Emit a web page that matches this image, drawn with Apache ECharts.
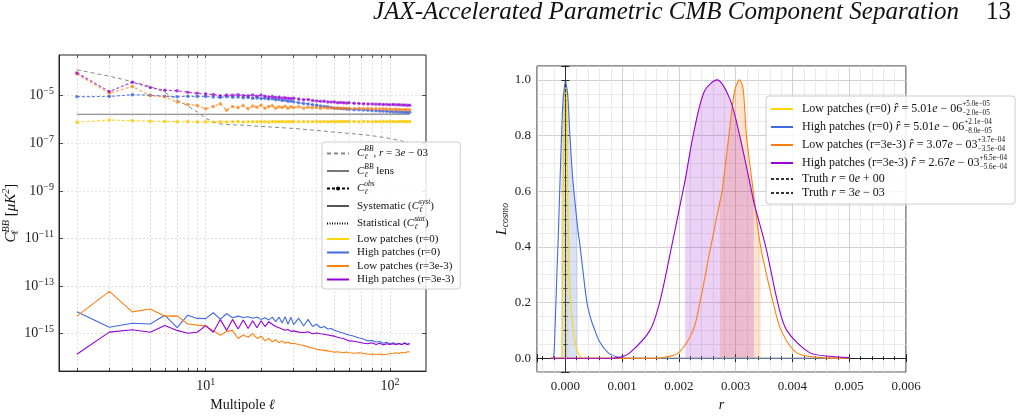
<!DOCTYPE html>
<html>
<head>
<meta charset="utf-8">
<script src="https://cdn.jsdelivr.net/npm/echarts@6/dist/echarts.min.js"></script>
<style>
  html, body { margin: 0; padding: 0; background: #fff; }
  #chart { width: 1021px; height: 417px; }
</style>
</head>
<body>
<div id="chart"></div>
<script>
// ---------- left panel: BB spectra ----------
const ELL = [2, 3, 4, 5, 6, 7, 8, 9, 10, 11, 12, 13, 14, 15, 16, 17, 18, 19, 20, 21, 22, 23, 24, 25, 26, 27, 28, 29, 30,
  32, 34, 36, 38, 40, 42, 44, 46, 48, 50, 52, 54, 56, 58, 60,
  64, 68, 72, 76, 80, 84, 88, 92, 96, 100, 104, 108, 112, 116, 120, 124, 128]

const ELL_TENSOR = [2, 3, 4, 5, 6, 7, 8, 9, 10, 11, 12, 13, 14, 16, 20, 25, 30, 40, 50, 60, 76, 96, 128]
const CL_TENSOR = [1.23e-4, 6.6e-5, 3.9e-5, 2.45e-5, 1.38e-5, 6.6e-6, 3.7e-6, 2.1e-6, 1.12e-6, 8.1e-7, 6.5e-7, 6.2e-7,
  6.0e-7, 5.75e-7, 5.1e-7, 4.6e-7, 4.2e-7, 3.5e-7, 2.95e-7, 2.6e-7, 2.2e-7, 1.7e-7, 1.05e-7]

const ELL_LENS = [2, 20, 128]
const CL_LENS = [1.66e-6, 1.67e-6, 1.68e-6]

// observed spectra (dashed, markers)
const OBS_LOW_R0 = [7.6e-7, 9.5e-7, 8.9e-7, 8.5e-7, 8.3e-7, 8.1e-7, 8.3e-7, 7.9e-7, 8.0e-7, 7.8e-7, 8.1e-7, 7.9e-7, 8.0e-7, 8.2e-7, 7.9e-7,
  8.1e-7, 8.0e-7, 8.2e-7, 8.0e-7, 8.1e-7, 7.9e-7, 8.2e-7, 8.0e-7, 8.1e-7, 8.2e-7, 8.0e-7, 8.1e-7, 8.0e-7, 8.2e-7,
  8.1e-7, 8.2e-7, 8.0e-7, 8.1e-7, 8.2e-7, 8.1e-7, 8.2e-7, 8.1e-7, 8.2e-7, 8.1e-7, 8.2e-7, 8.2e-7, 8.1e-7, 8.2e-7, 8.2e-7,
  8.2e-7, 8.1e-7, 8.2e-7, 8.2e-7, 8.1e-7, 8.2e-7, 8.2e-7, 8.1e-7, 8.2e-7, 8.2e-7, 8.2e-7, 8.1e-7, 8.2e-7, 8.2e-7, 8.2e-7, 8.1e-7, 8.2e-7]
const OBS_HIGH_R0 = [9.1e-6, 9.3e-6, 1.1e-5, 1.05e-5, 9.5e-6, 9.1e-6, 9.5e-6, 9.3e-6, 9.3e-6, 8.9e-6, 8.5e-6, 9.1e-6, 8.7e-6, 8.9e-6, 8.3e-6,
  8.5e-6, 7.9e-6, 8.1e-6, 7.6e-6, 7.8e-6, 7.2e-6, 7.4e-6, 6.8e-6, 6.9e-6, 6.3e-6, 6.5e-6, 5.9e-6, 6.0e-6, 5.6e-6,
  5.0e-6, 4.7e-6, 4.5e-6, 4.2e-6, 4.0e-6, 3.7e-6, 3.5e-6, 3.4e-6, 3.2e-6, 3.0e-6, 2.95e-6, 2.9e-6, 2.8e-6, 2.75e-6, 2.7e-6,
  2.6e-6, 2.55e-6, 2.5e-6, 2.45e-6, 2.4e-6, 2.35e-6, 2.3e-6, 2.25e-6, 2.2e-6, 2.15e-6, 2.1e-6, 2.1e-6, 2.05e-6, 2.05e-6, 2.0e-6, 2.0e-6, 2.0e-6]
const OBS_LOW_R3 = [8.3e-5, 1.26e-5, 2.45e-5, 1.0e-5, 9.1e-6, 5.4e-6, 4.3e-6, 3.9e-6, 2.8e-6, 3.5e-6, 4.6e-6, 2.45e-6, 3.5e-6, 3.2e-6, 3.8e-6,
  2.8e-6, 3.7e-6, 3.3e-6, 4.0e-6, 3.0e-6, 3.5e-6, 3.8e-6, 2.95e-6, 3.45e-6, 3.2e-6, 3.6e-6, 3.0e-6, 3.4e-6, 3.2e-6,
  3.45e-6, 3.0e-6, 3.3e-6, 3.1e-6, 3.2e-6, 2.95e-6, 3.2e-6, 3.0e-6, 3.1e-6, 2.95e-6, 3.0e-6, 2.95e-6, 3.0e-6, 2.9e-6, 2.95e-6,
  2.9e-6, 2.95e-6, 2.8e-6, 2.9e-6, 2.8e-6, 2.8e-6, 2.75e-6, 2.8e-6, 2.75e-6, 2.7e-6, 2.65e-6, 2.7e-6, 2.65e-6, 2.6e-6, 2.65e-6, 2.6e-6, 2.6e-6]
const OBS_HIGH_R3 = [9.1e-5, 1.5e-5, 3.7e-5, 2.2e-5, 1.7e-5, 1.6e-5, 1.4e-5, 1.26e-5, 1.17e-5, 1.12e-5, 1.0e-5, 1.07e-5, 1.05e-5, 1.1e-5, 1.02e-5,
  1.0e-5, 1.07e-5, 9.5e-6, 1.07e-5, 9.5e-6, 8.9e-6, 9.3e-6, 8.5e-6, 8.7e-6, 8.1e-6, 8.3e-6, 7.9e-6, 7.6e-6, 7.9e-6,
  7.2e-6, 6.8e-6, 6.9e-6, 6.3e-6, 6.0e-6, 5.8e-6, 5.9e-6, 5.5e-6, 5.4e-6, 5.4e-6, 5.1e-6, 5.2e-6, 5.0e-6, 4.9e-6, 5.0e-6,
  4.8e-6, 4.7e-6, 4.6e-6, 4.5e-6, 4.5e-6, 4.4e-6, 4.4e-6, 4.3e-6, 4.3e-6, 4.2e-6, 4.3e-6, 4.2e-6, 4.2e-6, 4.1e-6, 4.1e-6, 4.0e-6, 4.0e-6]

// systematic residuals (solid)
const SYST_HIGH_R0 = [8.3e-15, 1.86e-15, 2.75e-15, 2.57e-15, 6.0e-15, 1.82e-15, 6.0e-15, 4.4e-15, 4.3e-15, 7.6e-15, 4.1e-15, 6.9e-15, 4.7e-15, 5.5e-15, 4.8e-15,
  5.2e-15, 4.5e-15, 5.0e-15, 4.0e-15, 4.7e-15, 3.8e-15, 5.0e-15, 3.2e-15, 5.0e-15, 2.8e-15, 5.2e-15, 2.5e-15, 5.0e-15, 2.4e-15,
  4.5e-15, 2.1e-15, 4.0e-15, 2.0e-15, 2.5e-15, 1.78e-15, 2.0e-15, 1.58e-15, 1.66e-15, 1.41e-15, 1.26e-15, 1.12e-15, 1.07e-15, 9.5e-16, 8.9e-16,
  7.9e-16, 6.6e-16, 6.0e-16, 5.0e-16, 5.2e-16, 4.5e-16, 4.7e-16, 4.0e-16, 4.4e-16, 3.8e-16, 4.2e-16, 3.6e-16, 4.0e-16, 3.5e-16, 4.2e-16, 3.6e-16, 4.0e-16]
const SYST_LOW_R3 = [5.5e-15, 6.0e-14, 8.3e-15, 1.1e-14, 5.5e-15, 5.6e-15, 2.57e-15, 2.3e-15, 2.14e-15, 1.35e-15, 8.7e-16, 1.26e-15, 1.38e-15, 6.3e-16, 8.9e-16,
  7.1e-16, 1.0e-15, 6.3e-16, 7.9e-16, 5.0e-16, 6.3e-16, 4.5e-16, 5.6e-16, 4.2e-16, 5.0e-16, 4.0e-16, 4.5e-16, 3.8e-16, 4.0e-16,
  3.5e-16, 3.2e-16, 2.8e-16, 2.5e-16, 2.24e-16, 2.1e-16, 2.0e-16, 1.9e-16, 1.78e-16, 1.66e-16, 1.74e-16, 1.66e-16, 1.58e-16, 1.7e-16, 1.58e-16,
  1.51e-16, 1.58e-16, 1.48e-16, 1.38e-16, 1.41e-16, 1.35e-16, 1.41e-16, 1.32e-16, 1.38e-16, 1.45e-16, 1.51e-16, 1.58e-16, 1.48e-16, 1.62e-16, 1.58e-16, 1.7e-16, 1.74e-16]
const SYST_HIGH_R3 = [1.38e-16, 1.17e-15, 1.48e-15, 1.15e-15, 2.2e-15, 1.38e-15, 1.05e-15, 1.15e-15, 2.2e-15, 1.15e-15, 4.0e-15, 1.38e-15, 4.0e-15, 1.58e-15, 3.8e-15,
  1.66e-15, 3.5e-15, 1.78e-15, 3.5e-15, 2.0e-15, 3.2e-15, 2.5e-15, 2.0e-15, 1.78e-15, 1.58e-15, 1.41e-15, 1.51e-15, 1.26e-15, 1.32e-15,
  1.17e-15, 1.12e-15, 1.2e-15, 1.0e-15, 1.07e-15, 1.0e-15, 9.5e-16, 8.9e-16, 8.3e-16, 7.9e-16, 7.1e-16, 6.6e-16, 6.3e-16, 5.6e-16, 5.0e-16,
  4.8e-16, 4.4e-16, 4.0e-16, 3.8e-16, 4.2e-16, 3.5e-16, 4.0e-16, 3.4e-16, 3.8e-16, 3.5e-16, 3.8e-16, 3.5e-16, 3.8e-16, 3.5e-16, 4.0e-16, 3.5e-16, 3.7e-16]

const ELL_TICKS = [2, 3, 4, 5, 6, 7, 8, 9, 10, 20, 30, 40, 50, 60, 70, 80, 90, 100]
const ELL_LABELS = [10, 100]
const CL_TICKS = [1e-15, 1e-13, 1e-11, 1e-9, 1e-7, 1e-5]

// ---------- right panel: likelihoods ----------
const R_LOW0 = [-0.00026, -0.00007, -0.00006, -0.00005, -0.00004, -0.00002, -0.000015, 0, 0.000005, 0.00001, 0.00003, 0.00005, 0.000055, 0.00007, 0.0001, 0.00015, 0.0002, 0.00025, 0.0003, 0.005]
const L_LOW0 = [0, 0, 0.02, 0.3, 0.6, 0.88, 0.93, 0.99, 1.0, 0.99, 0.8, 0.47, 0.42, 0.3, 0.18, 0.08, 0.03, 0.01, 0, 0]
const R_HIGH0 = [-0.00026, -0.00022, -0.0002, -0.00018, -0.00015, -0.00012, -0.000075, -0.00004, 0, 0.000005, 0.00004, 0.00008, 0.00012, 0.00015, 0.0002, 0.000215, 0.00026, 0.0003, 0.00038, 0.00045, 0.00052, 0.0006, 0.00075, 0.0009, 0.0011, 0.005]
const L_HIGH0 = [0, 0, 0.02, 0.12, 0.3, 0.47, 0.76, 0.93, 0.999, 1.0, 0.95, 0.8, 0.67, 0.6, 0.5, 0.47, 0.4, 0.33, 0.2, 0.14, 0.1, 0.06, 0.02, 0.005, 0, 0]
const R_LOW3 = [-0.00026, 0.0016, 0.0018, 0.002, 0.00225, 0.00237, 0.00256, 0.00272, 0.00276, 0.00288, 0.00298, 0.00307, 0.00313, 0.00319, 0.00331, 0.00344, 0.00366, 0.0038, 0.00407, 0.0045, 0.005]
const L_LOW3 = [0, 0, 0.005, 0.02, 0.1, 0.2, 0.4, 0.56, 0.6, 0.8, 0.96, 1.0, 0.97, 0.8, 0.6, 0.4, 0.2, 0.1, 0.02, 0.002, 0]
const R_HIGH3 = [-0.00026, 0.0008, 0.00096, 0.00114, 0.00149, 0.00166, 0.00187, 0.00207, 0.00211, 0.00225, 0.00245, 0.00267, 0.0029, 0.00307, 0.00328, 0.00332, 0.00353, 0.00374, 0.0039, 0.0043, 0.0047, 0.005]
const L_HIGH3 = [0, 0, 0.003, 0.02, 0.1, 0.2, 0.4, 0.6, 0.64, 0.8, 0.96, 1.0, 0.93, 0.8, 0.6, 0.56, 0.4, 0.2, 0.1, 0.02, 0.006, 0.002]

// estimates and 68% intervals: low r=0, high r=0, low r=3e-3, high r=3e-3
const R_HAT = [5.01e-6, 5.01e-6, 3.07e-3, 2.67e-3]
const R_LO = [-1.5e-5, -7.5e-5, 2.72e-3, 2.11e-3]
const R_HI = [5.5e-5, 2.15e-4, 3.44e-3, 3.32e-3]
const R_TRUTH = [0, 0.003]

const F = 'Liberation Serif'
const NONE = 'rgba(0,0,0,0)'
const COLORS = ['#FFD700', '#4169E1', '#FF7F0E', '#9400D3']
const FADED = ['rgba(255,200,0,0.8)', 'rgba(65,105,225,0.8)', 'rgba(255,127,14,0.7)', 'rgba(148,0,211,0.7)']
const SHADE = ['rgba(255,215,0,0.25)', 'rgba(65,105,225,0.2)', 'rgba(255,127,14,0.2)', 'rgba(148,0,211,0.18)']

const pairs = (xs, ys) => xs.map((x, i) => [x, ys[i]])
const inBand = (xs, ys, lo, hi) => pairs(xs, ys).filter(p => p[0] >= lo - 1e-12 && p[0] <= hi + 1e-12)

const chart = echarts.init(document.getElementById('chart'))

// rich text pieces for math-like labels
const mathRich = (size) => ({
  t: { fontFamily: F, fontSize: size, color: '#111', lineHeight: size + 4 },
  i: { fontFamily: F, fontSize: size, fontStyle: 'italic', color: '#111', lineHeight: size + 4 },
  sp: { fontFamily: F, fontSize: size * 0.68, fontStyle: 'italic', color: '#111', verticalAlign: 'top', lineHeight: size + 4 },
  sb: { fontFamily: F, fontSize: size * 0.68, fontStyle: 'italic', color: '#111', verticalAlign: 'bottom', lineHeight: size + 4 },
  // zero-width token so the next token stacks on top of it
  sb0: { fontFamily: F, fontSize: size * 0.68, fontStyle: 'italic', color: '#111', verticalAlign: 'bottom', width: 0.01, lineHeight: size + 4 },
  sp0: { fontFamily: F, fontSize: size * 0.6, color: '#111', verticalAlign: 'top', width: 0.01, lineHeight: size + 4 },
  sbn: { fontFamily: F, fontSize: size * 0.6, color: '#111', verticalAlign: 'bottom', lineHeight: size + 4 }
})

const LEFT_NAMES = {
  tensor: '{i|C}{sb0|ℓ}{sp|BB}{t|, }{i|r}{t| = 3}{i|e}{t| − 03}',
  lens: '{i|C}{sb0|ℓ}{sp|BB}{t| lens}',
  obs: '{i|C}{sb0|ℓ}{sp|obs}',
  syst: '{t|Systematic (}{i|C}{sb0|ℓ}{sp|syst}{t|)}',
  stat: '{t|Statistical (}{i|C}{sb0|ℓ}{sp|stat}{t|)}',
  low0: '{t|Low patches (r=0)}',
  high0: '{t|High patches (r=0)}',
  low3: '{t|Low patches (r=3e-3)}',
  high3: '{t|High patches (r=3e-3)}'
}
const RIGHT_NAMES = {
  rlow0: '{t|Low patches (r=0) }{i|r̂}{t| = 5.01}{i|e}{t| − 06}{sp0|+5.0e−05}{sbn|−2.0e−05}',
  rhigh0: '{t|High patches (r=0) }{i|r̂}{t| = 5.01}{i|e}{t| − 06}{sp0|+2.1e−04}{sbn|−8.0e−05}',
  rlow3: '{t|Low patches (r=3e-3) }{i|r̂}{t| = 3.07}{i|e}{t| − 03}{sp0|+3.7e−04}{sbn|−3.5e−04}',
  rhigh3: '{t|High patches (r=3e-3) }{i|r̂}{t| = 2.67}{i|e}{t| − 03}{sp0|+6.5e−04}{sbn|−5.6e−04}',
  truth0: '{t|Truth }{i|r}{t| = 0}{i|e}{t| + 00}',
  truth3: '{t|Truth }{i|r}{t| = 3}{i|e}{t| − 03}'
}

const powLabel = v => {
  const e = Math.round(Math.log10(v))
  return '{b|10}{s|' + (e < 0 ? '−' + (-e) : e) + '}'
}
const powRich = {
  b: { fontFamily: F, fontSize: 14, color: '#222' },
  s: { fontFamily: F, fontSize: 10, color: '#222', verticalAlign: 'top', padding: [0, 0, 8, 0] }
}

const series = []
const L = { xAxisIndex: 0, yAxisIndex: 0 }
const R = { xAxisIndex: 2, yAxisIndex: 2 }

// left panel
series.push(Object.assign({ name: 'tensor', type: 'line', data: pairs(ELL_TENSOR, CL_TENSOR), symbol: 'none',
  lineStyle: { color: '#888', type: [4, 3], width: 1 }, itemStyle: { color: NONE }, z: 2 }, L))
series.push(Object.assign({ name: 'lens', type: 'line', data: pairs(ELL_LENS, CL_LENS), symbol: 'none',
  lineStyle: { color: '#777', width: 1.1 }, itemStyle: { color: NONE }, z: 2 }, L))
const OBS = [OBS_LOW_R0, OBS_HIGH_R0, OBS_LOW_R3, OBS_HIGH_R3]
OBS.forEach((arr, k) => {
  series.push(Object.assign({ name: 'obs_' + k, type: 'line', data: pairs(ELL, arr), symbol: 'circle', symbolSize: 3.5,
    lineStyle: { color: FADED[k], type: [3, 2], width: 1.2 }, itemStyle: { color: FADED[k] }, z: 3 }, L))
})
const SYST = { high0: [SYST_HIGH_R0, 1], low3: [SYST_LOW_R3, 2], high3: [SYST_HIGH_R3, 3] }
Object.keys(SYST).forEach(name => {
  const [arr, k] = SYST[name]
  series.push(Object.assign({ name, type: 'line', data: pairs(ELL, arr), symbol: 'none',
    lineStyle: { color: COLORS[k], width: 1.1 }, itemStyle: { color: NONE }, z: 3 }, L))
})
// legend-only keys
series.push(Object.assign({ name: 'low0', type: 'line', data: [], symbol: 'none', lineStyle: { color: COLORS[0], width: 1.2 }, itemStyle: { color: NONE } }, L))
series.push(Object.assign({ name: 'obs', type: 'line', data: [], symbol: 'circle', symbolSize: 4, lineStyle: { color: '#000', type: [3, 2], width: 1.1 }, itemStyle: { color: '#000' } }, L))
series.push(Object.assign({ name: 'syst', type: 'line', data: [], symbol: 'none', lineStyle: { color: '#555', width: 1.8 }, itemStyle: { color: NONE } }, L))
series.push(Object.assign({ name: 'stat', type: 'line', data: [], symbol: 'none', lineStyle: { color: '#000', type: [1, 1.5], width: 1 }, itemStyle: { color: NONE } }, L))

// right panel
const CURVES = [['rlow0', R_LOW0, L_LOW0], ['rhigh0', R_HIGH0, L_HIGH0], ['rlow3', R_LOW3, L_LOW3], ['rhigh3', R_HIGH3, L_HIGH3]]
CURVES.forEach(([name, xs, ys], k) => {
  series.push(Object.assign({ name: 'band_' + name, type: 'line', data: inBand(xs, ys, R_LO[k], R_HI[k]), symbol: 'none',
    smooth: 0.3, lineStyle: { width: 0 }, areaStyle: { color: SHADE[k], opacity: 1 }, itemStyle: { color: SHADE[k] }, z: 1 }, R))
})
CURVES.forEach(([name, xs, ys], k) => {
  series.push(Object.assign({ name, type: 'line', data: pairs(xs, ys), symbol: 'none', smooth: 0.3,
    lineStyle: { color: COLORS[k], width: 1.1 }, itemStyle: { color: NONE }, z: 3,
    markLine: { silent: true, symbol: ['none', 'none'], label: { show: false },
      lineStyle: { color: COLORS[k], type: [3, 2], width: 0.9 }, data: [{ xAxis: R_HAT[k] }] } }, R))
})
;['truth0', 'truth3'].forEach((name, k) => {
  series.push(Object.assign({ name, type: 'line', data: [], symbol: 'none',
    lineStyle: { color: '#333', type: [3, 2], width: 1 }, itemStyle: { color: NONE }, z: 4,
    markLine: { silent: true, symbol: ['none', 'none'], label: { show: false },
      lineStyle: { color: '#333', type: [3, 2], width: 1 }, data: [{ xAxis: R_TRUTH[k] }] } }, R))
})

const tickIn = (vals, len) => ({ show: true, inside: true, length: len, customValues: vals, lineStyle: { color: '#222', width: 0.8 } })

const option = {
  animation: false,
  backgroundColor: '#fff',
  graphic: [
    { type: 'text', right: 62, top: 0, style: { text: 'JAX-Accelerated Parametric CMB Component Separation', fill: '#111',
      font: 'italic 25px "Liberation Serif"' } },
    { type: 'text', right: 10, top: 0, style: { text: '13', fill: '#111', font: '25px "Liberation Serif"' } }
  ],
  grid: [
    { left: 59, top: 55, width: 367, height: 324, show: true, borderColor: '#222', borderWidth: 1 },
    { left: 537, top: 66, width: 369, height: 314, show: true, borderColor: '#222', borderWidth: 1 }
  ],
  legend: [
    {
      data: ['tensor', 'lens', 'obs', 'syst', 'stat', 'low0', 'high0', 'low3', 'high3'],
      orient: 'vertical', left: 322, top: 142, padding: [4, 6, 4, 4], itemGap: 2.5,
      itemWidth: 22, itemHeight: 5, selectedMode: false,
      backgroundColor: 'rgba(255,255,255,0.85)', borderColor: '#ccc', borderWidth: 1, borderRadius: 3,
      formatter: n => LEFT_NAMES[n],
      textStyle: { fontFamily: F, fontSize: 11, padding: [0, 0, 0, 3], rich: mathRich(11) },
      z: 10
    },
    {
      data: ['rlow0', 'rhigh0', 'rlow3', 'rhigh3', 'truth0', 'truth3'],
      orient: 'vertical', left: 766, top: 96, padding: [5, 8, 5, 4], itemGap: 2,
      itemWidth: 22, itemHeight: 5, selectedMode: false,
      backgroundColor: 'rgba(255,255,255,0.85)', borderColor: '#ccc', borderWidth: 1, borderRadius: 3,
      formatter: n => RIGHT_NAMES[n],
      textStyle: { fontFamily: F, fontSize: 12, padding: [0, 0, 0, 4], rich: mathRich(12) },
      z: 10
    }
  ],
  xAxis: [
    {
      gridIndex: 0, type: 'log', logBase: 10, min: 1.6, max: 157,
      axisLine: { show: true, lineStyle: { color: '#222', width: 1 } },
      axisTick: tickIn(ELL_TICKS, 3),
      axisLabel: { customValues: ELL_LABELS, formatter: powLabel, rich: powRich, margin: 6 },
      splitLine: { show: true, lineStyle: { color: '#d8d8d8', type: [2, 2], width: 0.8 } },
      name: '{t|Multipole }{i|ℓ}', nameLocation: 'middle', nameGap: 18,
      nameTextStyle: { rich: mathRich(14) }
    },
    {
      gridIndex: 0, type: 'log', logBase: 10, min: 1.6, max: 157, position: 'top',
      axisLine: { show: false }, axisTick: tickIn(ELL_TICKS, 3), axisLabel: { show: false }, splitLine: { show: false }
    },
    {
      gridIndex: 1, type: 'value', min: -0.0005, max: 0.006, splitNumber: 6,
      axisLine: { show: true, lineStyle: { color: '#222', width: 1 } },
      axisTick: { show: true, inside: true, length: 4, lineStyle: { color: '#222' } },
      minorTick: { show: true, splitNumber: 5, length: 2, lineStyle: { color: '#222' } },
      axisLabel: { showMinLabel: false, formatter: v => v.toFixed(3), fontFamily: F, fontSize: 13, color: '#222', margin: 8 },
      splitLine: { show: true, lineStyle: { color: '#c4c4c4', width: 0.8 } },
      minorSplitLine: { show: true, lineStyle: { color: '#e4e4e4', width: 0.8 } },
      name: '{i|r}', nameLocation: 'middle', nameGap: 19, nameTextStyle: { rich: mathRich(14) }
    },
    {
      gridIndex: 1, type: 'value', min: -0.0005, max: 0.006, splitNumber: 6, position: 'top',
      axisLine: { show: false }, axisTick: { show: true, inside: true, length: 4, lineStyle: { color: '#222' } },
      minorTick: { show: true, splitNumber: 5, length: 2, lineStyle: { color: '#222' } },
      axisLabel: { show: false }, splitLine: { show: false }
    }
  ],
  yAxis: [
    {
      gridIndex: 0, type: 'log', logBase: 10, min: 2.69e-17, max: 5.13e-4,
      axisLine: { show: true, lineStyle: { color: '#222', width: 1 } },
      axisTick: tickIn(CL_TICKS, 4),
      axisLabel: { customValues: CL_TICKS, formatter: powLabel, rich: powRich, margin: 5 },
      splitLine: { show: true, lineStyle: { color: '#d8d8d8', type: [2, 2], width: 0.8 } },
      name: '{i|C}{sb0|ℓ}{sp|BB}{t| [}{i|μK}{sp|2}{t|]}', nameLocation: 'middle', nameGap: 35, nameRotate: 90,
      nameTextStyle: { rich: mathRich(15) }
    },
    {
      gridIndex: 0, type: 'log', logBase: 10, min: 2.69e-17, max: 5.13e-4, position: 'right',
      axisLine: { show: false }, axisTick: tickIn(CL_TICKS, 4), axisLabel: { show: false }, splitLine: { show: false }
    },
    {
      gridIndex: 1, type: 'value', min: -0.05, max: 1.05, splitNumber: 5,
      axisLine: { show: true, lineStyle: { color: '#222', width: 1 } },
      axisTick: { show: true, inside: true, length: 4, lineStyle: { color: '#222' } },
      minorTick: { show: true, splitNumber: 4, length: 2, lineStyle: { color: '#222' } },
      axisLabel: { showMinLabel: false, showMaxLabel: false, formatter: v => v.toFixed(1), fontFamily: F, fontSize: 13, color: '#222', margin: 6 },
      splitLine: { show: true, lineStyle: { color: '#c4c4c4', width: 0.8 } },
      minorSplitLine: { show: true, lineStyle: { color: '#e4e4e4', width: 0.8 } },
      name: '{i|L}{sb|cosmo}', nameLocation: 'middle', nameGap: 23, nameRotate: 90,
      nameTextStyle: { rich: mathRich(14) }
    },
    {
      gridIndex: 1, type: 'value', min: -0.05, max: 1.05, splitNumber: 5, position: 'right',
      axisLine: { show: false }, axisTick: { show: true, inside: true, length: 4, lineStyle: { color: '#222' } },
      minorTick: { show: true, splitNumber: 4, length: 2, lineStyle: { color: '#222' } },
      axisLabel: { show: false }, splitLine: { show: false }
    }
  ],
  series
}

chart.setOption(option)
</script>
</body>
</html>
